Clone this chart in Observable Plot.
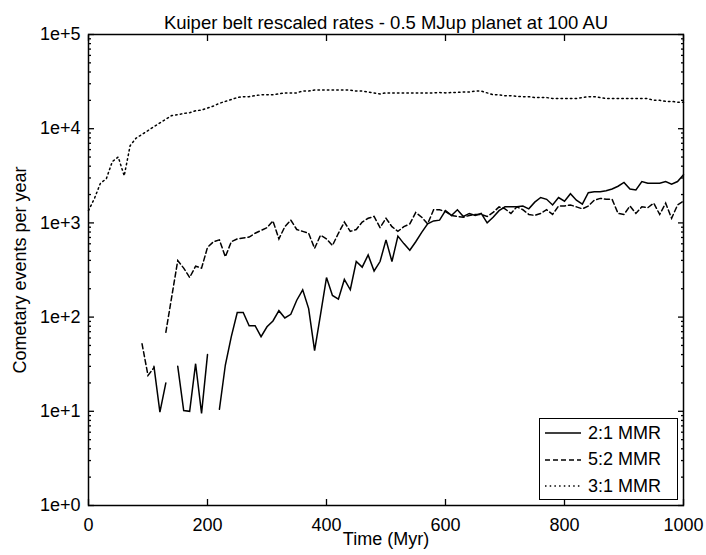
<!DOCTYPE html>
<html><head><meta charset="utf-8">
<script src="https://cdn.jsdelivr.net/npm/d3@7"></script>
<script src="https://cdn.jsdelivr.net/npm/@observablehq/plot@0.6"></script>
<style>
body{margin:0;background:#fff;font-family:"Liberation Sans",Arial,sans-serif;}
#wrap{position:relative;width:706px;height:555px;}
#legend{position:absolute;left:539px;top:418px;width:139px;height:82px;box-sizing:border-box;border:1px solid #000;background:#fff;font-size:18px;color:#000;}
.row{position:absolute;left:4px;height:26px;display:flex;align-items:center;white-space:nowrap;}
.row svg{margin-right:6px;}
</style></head><body><div id="wrap"></div>
<script>
const time = [
  0,10,20,30,40,50,60,70,80,90,
  100,110,120,130,140,150,160,170,180,190,
  200,210,220,230,240,250,260,270,280,290,
  300,310,320,330,340,350,360,370,380,390,
  400,410,420,430,440,450,460,470,480,490,
  500,510,520,530,540,550,560,570,580,590,
  600,610,620,630,640,650,660,670,680,690,
  700,710,720,730,740,750,760,770,780,790,
  800,810,820,830,840,850,860,870,880,890,
  900,910,920,930,940,950,960,970,980,990,
  1000];
const rate21 = [
  NaN,NaN,NaN,NaN,NaN,NaN,NaN,NaN,NaN,NaN,
  NaN,30,9.8,20,NaN,30,10.2,10,32,9.5,
  40,NaN,10.5,31,62,112,112,81,81,62,
  79,91,117,98,107,151,195,123,44,107,
  263,170,155,251,195,389,339,457,309,389,
  661,389,724,603,513,631,794,977,1050,1070,
  1350,1200,1380,1170,1260,1200,1260,1000,1150,1350,
  1480,1480,1480,1510,1410,1660,1860,1780,1550,1860,
  1700,2040,1740,1580,2090,2140,2140,2190,2290,2450,
  2690,2290,2240,2750,2630,2630,2630,2750,2570,2750,
  3240];
const rate52 = [
  NaN,NaN,NaN,NaN,NaN,NaN,NaN,NaN,NaN,52,
  24,29,NaN,69,166,398,331,263,347,331,
  550,631,661,437,631,676,692,708,776,832,
  891,1050,676,912,1070,851,813,776,537,741,
  676,575,776,1020,813,851,1020,1120,1170,891,
  1120,912,813,912,977,1290,1150,977,1380,1380,
  1320,1200,1170,1150,1200,1230,1230,1170,1290,1480,
  1410,1260,1480,1380,1230,1200,1260,1380,1230,1510,
  1510,1550,1480,1410,1510,1740,1820,1780,1780,1260,
  1230,1510,1260,1480,1450,1620,1230,1620,1120,1550,
  1700];
const rate31 = [
  1350,1820,2630,2950,4470,5010,3160,6610,7940,8710,
  9550,10500,11500,12600,13800,14100,14500,14800,15500,15800,
  16600,17400,18600,19500,20400,21400,21900,21900,22400,22900,
  22900,22900,23400,24000,24000,24000,25100,25100,25700,25700,
  25700,25700,25700,25700,25700,25100,25100,24500,24000,23400,
  24000,24000,24000,24000,24000,24000,24000,24000,24000,24200,
  24000,24200,24300,24500,24500,25100,25100,24000,22900,22900,
  22400,22400,22100,21900,21900,21400,21400,21400,20900,20900,
  20900,20900,20900,21400,21900,21900,21400,20900,20900,20900,
  20900,20900,20900,20900,20900,20000,20000,19500,19500,19100,
  19100];
const seriesNames = ["2:1 MMR", "5:2 MMR", "3:1 MMR"];
const seriesDash = [null, "5,3", "1.5,3.2"];
const yTicks = [1, 10, 100, 1000, 10000, 100000];
const yTickLabels = ["1e+0", "1e+1", "1e+2", "1e+3", "1e+4", "1e+5"];
const yMinorTicks = [
  2,3,4,5,6,7,8,9,
  20,30,40,50,60,70,80,90,
  200,300,400,500,600,700,800,900,
  2000,3000,4000,5000,6000,7000,8000,9000,
  20000,30000,40000,50000,60000,70000,80000,90000];
const xTicks = [0, 200, 400, 600, 800, 1000];
const xTickLabels = ["0", "200", "400", "600", "800", "1000"];
const title = "Kuiper belt rescaled rates - 0.5 MJup planet at 100 AU";
const xLabel = "Time (Myr)";
const yLabel = "Cometary events per year";

const seriesValues = [rate21, rate52, rate31];
const tables = seriesValues.map((vals, s) => time.map((t, i) => ({time: t, value: vals[i], series: seriesNames[s]})));

const FONT = 18;
const chart = Plot.plot({
  width: 706, height: 555,
  marginLeft: 88, marginRight: 23, marginTop: 34, marginBottom: 50,
  style: {fontFamily: "'Liberation Sans', Arial, Helvetica, sans-serif", fontSize: FONT + "px", color: "#000", background: "#fff"},
  x: {domain: [0, 1000], label: null},
  y: {type: "log", domain: [1, 100000], label: null},
  marks: [
    ...tables.map((tb, s) => Plot.line(tb, {
      x: "time", y: "value", stroke: "#000", strokeWidth: 1.5,
      strokeDasharray: seriesDash[s] || undefined, strokeLinejoin: "miter", strokeMiterlimit: 3
    })),
    Plot.axisY(yTicks, {anchor: "left", tickSize: -6, fill: null, label: null, strokeWidth: 1.3}),
    Plot.axisY(yMinorTicks, {anchor: "left", tickSize: -3, fill: null, label: null, strokeWidth: 1.3}),
    Plot.axisY(yTicks, {anchor: "right", tickSize: -6, fill: null, label: null, strokeWidth: 1.3}),
    Plot.axisY(yMinorTicks, {anchor: "right", tickSize: -3, fill: null, label: null, strokeWidth: 1.3}),
    Plot.axisY(yTicks, {anchor: "left", tickSize: 0, tickPadding: 8, label: null, fontSize: FONT,
      tickFormat: d => yTickLabels[yTicks.indexOf(d)]}),
    Plot.axisX(xTicks, {anchor: "bottom", tickSize: -6, fill: null, label: null, strokeWidth: 1.3}),
    Plot.axisX(xTicks, {anchor: "top", tickSize: -6, fill: null, label: null, strokeWidth: 1.3}),
    Plot.axisX(xTicks, {anchor: "bottom", tickSize: 0, tickPadding: 13, label: null, fontSize: FONT,
      tickFormat: d => xTickLabels[xTicks.indexOf(d)]}),
    Plot.frame({stroke: "#000", strokeWidth: 1.5}),
    Plot.text([title], {text: d => d, frameAnchor: "top", dy: -19, fontSize: 18.5, fill: "#000"}),
    Plot.text([xLabel], {text: d => d, frameAnchor: "bottom", dy: 39, fontSize: FONT, fill: "#000"}),
    Plot.text([yLabel], {text: d => d, frameAnchor: "left", textAnchor: "middle", dx: -68, rotate: -90, fontSize: FONT, fill: "#000"})
  ]
});
const wrap = document.getElementById("wrap");
wrap.appendChild(chart);

const legend = document.createElement("div");
legend.id = "legend";
seriesNames.forEach((name, s) => {
  const row = document.createElement("div");
  row.className = "row";
  row.style.top = (1 + s * 26.5) + "px";
  const dash = seriesDash[s] ? ` stroke-dasharray="${seriesDash[s]}"` : "";
  row.innerHTML = `<svg width="38" height="10"><line x1="1" y1="5" x2="37" y2="5" stroke="#000" stroke-width="1.5"${dash}/></svg><span>${name}</span>`;
  legend.appendChild(row);
});
wrap.appendChild(legend);
</script>
</body></html>
